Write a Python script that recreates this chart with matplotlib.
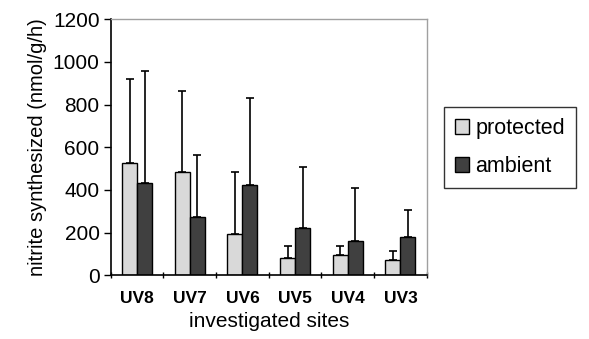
import numpy as np
import matplotlib.pyplot as plt

plt.rcParams['font.family'] = ['Liberation Sans', 'DejaVu Sans']

# sites and values (nmol/g/h)
sites = ['UV8', 'UV7', 'UV6', 'UV5', 'UV4', 'UV3']
protected = [528, 484, 192, 83, 94, 73]
protected_top = [919, 866, 484, 136, 136, 114]
ambient = [434, 273, 422, 222, 163, 180]
ambient_top = [958, 566, 833, 509, 409, 305]

protected_err = np.array(protected_top) - np.array(protected)
ambient_err = np.array(ambient_top) - np.array(ambient)

fig = plt.figure(figsize=(5.89, 3.39), dpi=100)
ax = fig.add_axes([0.188, 0.188, 0.5365, 0.755])

x = np.arange(len(sites))
w = 0.285
err_style = dict(ecolor='black', elinewidth=1.2, capsize=3, capthick=1.2)

ax.bar(x - w/2, protected, w, color='#d9d9d9', edgecolor='black', linewidth=1.0,
       label='protected', yerr=[np.zeros(len(sites)), protected_err], error_kw=err_style)
ax.bar(x + w/2, ambient, w, color='#404040', edgecolor='black', linewidth=1.0,
       label='ambient', yerr=[np.zeros(len(sites)), ambient_err], error_kw=err_style)

ax.set_xlim(-0.5, len(sites) - 0.5)
ax.set_ylim(0, 1200)
ax.set_yticks(range(0, 1201, 200))
ax.tick_params(axis='y', labelsize=15, length=5, width=1, direction='out', pad=3)

ax.set_xticks(x)
ax.set_xticklabels(sites, fontsize=12.5, fontweight='bold')
ax.tick_params(axis='x', which='major', length=0, pad=11)
ax.set_xticks(np.arange(-0.5, len(sites)), minor=True)
ax.tick_params(axis='x', which='minor', length=5, width=1, direction='inout')

ax.set_xlabel('investigated sites', fontsize=15, labelpad=5)
ax.set_ylabel('nitrite synthesized (nmol/g/h)', fontsize=14.5, labelpad=4)

for s in ['top', 'right']:
    ax.spines[s].set_color('#a0a0a0')
    ax.spines[s].set_linewidth(1.0)
for s in ['left', 'bottom']:
    ax.spines[s].set_color('black')
    ax.spines[s].set_linewidth(1.2)

leg = fig.legend(loc='upper left', bbox_to_anchor=(0.754, 0.684), fontsize=15.5,
                 frameon=True, fancybox=False, edgecolor='black', borderaxespad=0,
                 handlelength=0.65, handleheight=0.65, handletextpad=0.3,
                 labelspacing=0.8, borderpad=0.5)
leg.get_frame().set_linewidth(1.0)

fig.savefig('out.png', dpi=100)
